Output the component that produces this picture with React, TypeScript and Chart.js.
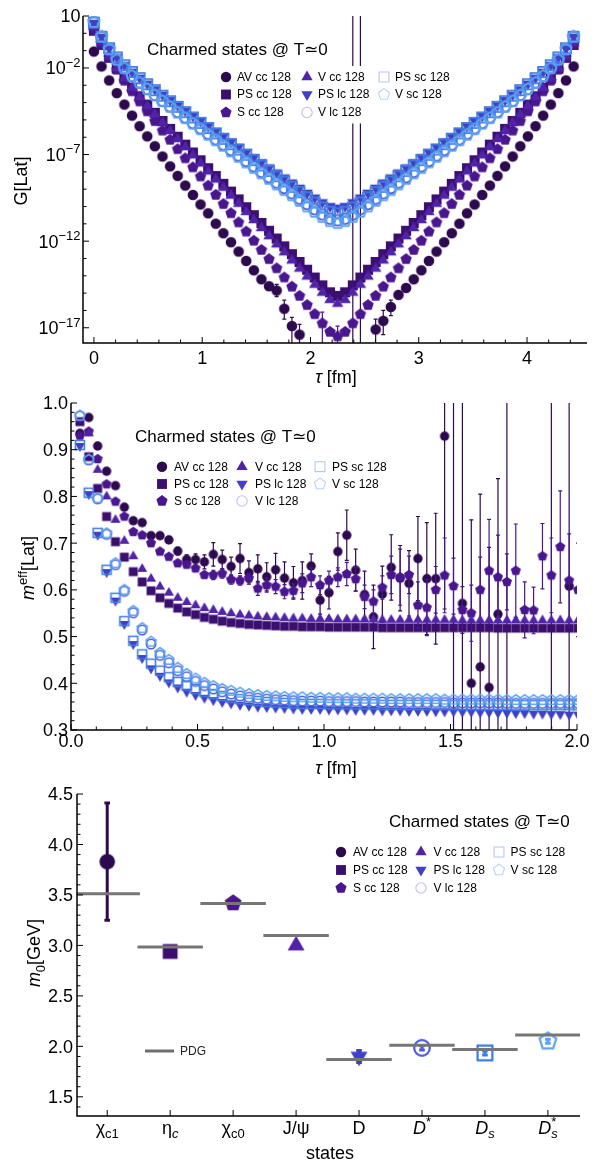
import React, { useEffect, useRef } from 'react';
import { Chart, registerables } from 'chart.js';

Chart.register(...registerables);

const FONT = '"Liberation Sans", Arial, Helvetica, "DejaVu Sans", sans-serif';
const LEGEND_TITLE = 'Charmed states @ T\u22430';

// ---------------- series ----------------
const SERIES = ['AV cc 128', 'PS cc 128', 'S cc 128', 'V cc 128', 'PS lc 128', 'V lc 128', 'PS sc 128', 'V sc 128'];
const COLORS = ['#2d0a4e', '#3b0f6f', '#4a168f', '#5023a8', '#4040c6', '#4c58d8', '#3f7ce2', '#5ca3f2'];
const LEGEND_COLORS = ['#2d0a4e', '#3b0f6f', '#4a168f', '#5023a8', '#4040c6', '#c0c0ee', '#b2c6f2', '#b9d3f6'];
const MARKERS = ['circle', 'square', 'pentagon', 'triUp', 'triDown', 'circle', 'square', 'pentagon'];
const FILLED = [true, true, true, true, true, false, false, false];

const LATTICE_SPACING_FM = 0.03516;

// ---------------- top panel: correlators (log10 G) ----------------
const TOP_SLICES = [0, 2, 4, 6, 8, 10, 12, 14, 16, 18, 20, 22, 24, 26, 28, 30, 32, 34, 36, 38, 40, 42, 44, 46, 48, 50, 52, 54, 56, 58, 60, 62, 64, 66, 68, 70, 72, 74, 76, 78, 80, 82, 84, 86, 88, 90, 92, 94, 96, 98, 100, 102, 104, 106, 108, 110, 112, 114, 116, 118, 120, 122, 124, 126];

const TOP_LOG_AV_CC = [-1.05, -1.91, -2.72, -3.45, -4.11, -4.75, -5.36, -5.95, -6.52, -7.11, -7.68, -8.23, -8.79, -9.33, -9.88, -10.39, -10.99, -11.54, -12.06, -12.60, -13.14, -13.68, -14.20, -14.60, -14.85, -15.90, -16.90, -17.40, null, null, null, null, null, null, null, null, null, -17.10, -16.60, -15.80, -15.10, -14.70, -14.20, -13.68, -13.14, -12.60, -12.06, -11.54, -10.99, -10.39, -9.88, -9.33, -8.79, -8.23, -7.68, -7.11, -6.52, -5.95, -5.36, -4.75, -4.11, -3.45, -2.72, -1.91];
const TOP_LOG_PS_CC = [0.15, -0.67, -1.41, -2.04, -2.61, -3.14, -3.64, -4.12, -4.59, -5.06, -5.52, -5.97, -6.43, -6.88, -7.33, -7.79, -8.24, -8.69, -9.14, -9.59, -10.04, -10.50, -10.95, -11.40, -11.85, -12.30, -12.75, -13.20, -13.65, -14.10, -14.55, -14.95, -15.16, -14.95, -14.55, -14.10, -13.65, -13.20, -12.75, -12.30, -11.85, -11.40, -10.95, -10.50, -10.04, -9.59, -9.14, -8.69, -8.24, -7.79, -7.33, -6.88, -6.43, -5.97, -5.52, -5.06, -4.59, -4.12, -3.64, -3.14, -2.61, -2.04, -1.41, -0.67];
const TOP_LOG_S_CC = [0.20, -0.60, -1.39, -2.10, -2.74, -3.35, -3.94, -4.51, -5.07, -5.62, -6.15, -6.69, -7.22, -7.74, -8.27, -8.80, -9.33, -9.86, -10.39, -10.92, -11.45, -11.98, -12.51, -13.04, -13.57, -14.10, -14.63, -15.16, -15.69, -16.22, -16.75, -17.24, -17.50, -17.24, -16.75, -16.22, -15.69, -15.16, -14.63, -14.10, -13.57, -13.04, -12.51, -11.98, -11.45, -10.92, -10.39, -9.86, -9.33, -8.80, -8.27, -7.74, -7.22, -6.69, -6.15, -5.62, -5.07, -4.51, -3.94, -3.35, -2.74, -2.10, -1.39, -0.60];
const TOP_LOG_V_CC = [0.35, -0.55, -1.33, -2.01, -2.60, -3.15, -3.68, -4.18, -4.67, -5.15, -5.63, -6.10, -6.57, -7.04, -7.51, -7.97, -8.44, -8.91, -9.37, -9.84, -10.31, -10.78, -11.24, -11.71, -12.18, -12.64, -13.11, -13.58, -14.04, -14.51, -14.97, -15.39, -15.61, -15.39, -14.97, -14.51, -14.04, -13.58, -13.11, -12.64, -12.18, -11.71, -11.24, -10.78, -10.31, -9.84, -9.37, -8.91, -8.44, -7.97, -7.51, -7.04, -6.57, -6.10, -5.63, -5.15, -4.67, -4.18, -3.68, -3.15, -2.60, -2.01, -1.33, -0.55];
const TOP_LOG_PS_LC = [0.60, -0.20, -0.87, -1.39, -1.83, -2.22, -2.57, -2.91, -3.23, -3.55, -3.85, -4.16, -4.46, -4.76, -5.06, -5.36, -5.66, -5.96, -6.26, -6.56, -6.86, -7.15, -7.45, -7.75, -8.04, -8.33, -8.62, -8.92, -9.21, -9.49, -9.76, -9.98, -10.07, -9.98, -9.76, -9.49, -9.21, -8.92, -8.62, -8.33, -8.04, -7.75, -7.45, -7.15, -6.86, -6.56, -6.26, -5.96, -5.66, -5.36, -5.06, -4.76, -4.46, -4.16, -3.85, -3.55, -3.23, -2.91, -2.57, -2.22, -1.83, -1.39, -0.87, -0.20];
const TOP_LOG_V_LC = [0.65, -0.20, -0.93, -1.53, -2.02, -2.46, -2.85, -3.22, -3.56, -3.90, -4.22, -4.54, -4.86, -5.18, -5.49, -5.80, -6.12, -6.43, -6.74, -7.06, -7.37, -7.68, -8.00, -8.31, -8.62, -8.93, -9.24, -9.55, -9.86, -10.16, -10.46, -10.70, -10.80, -10.70, -10.46, -10.16, -9.86, -9.55, -9.24, -8.93, -8.62, -8.31, -8.00, -7.68, -7.37, -7.06, -6.74, -6.43, -6.12, -5.80, -5.49, -5.18, -4.86, -4.54, -4.22, -3.90, -3.56, -3.22, -2.85, -2.46, -2.02, -1.53, -0.93, -0.20];
const TOP_LOG_PS_SC = [0.62, -0.20, -0.86, -1.39, -1.84, -2.23, -2.59, -2.94, -3.28, -3.60, -3.92, -4.24, -4.55, -4.86, -5.17, -5.47, -5.78, -6.09, -6.40, -6.71, -7.01, -7.32, -7.63, -7.94, -8.25, -8.55, -8.86, -9.17, -9.47, -9.77, -10.06, -10.30, -10.40, -10.30, -10.06, -9.77, -9.47, -9.17, -8.86, -8.55, -8.25, -7.94, -7.63, -7.32, -7.01, -6.71, -6.40, -6.09, -5.78, -5.47, -5.17, -4.86, -4.55, -4.24, -3.92, -3.60, -3.28, -2.94, -2.59, -2.23, -1.84, -1.39, -0.86, -0.20];
const TOP_LOG_V_SC = [0.66, -0.19, -0.92, -1.52, -2.02, -2.46, -2.85, -3.22, -3.58, -3.92, -4.25, -4.58, -4.90, -5.22, -5.54, -5.86, -6.18, -6.50, -6.82, -7.14, -7.46, -7.78, -8.09, -8.41, -8.73, -9.05, -9.36, -9.68, -10.00, -10.31, -10.61, -10.85, -10.96, -10.85, -10.61, -10.31, -10.00, -9.68, -9.36, -9.05, -8.73, -8.41, -8.09, -7.78, -7.46, -7.14, -6.82, -6.50, -6.18, -5.86, -5.54, -5.22, -4.90, -4.58, -4.25, -3.92, -3.58, -3.22, -2.85, -2.46, -2.02, -1.52, -0.92, -0.19];

// error bars (log10 ends) in the top panel
const TOP_AV_BAR_SLICES = [48, 50, 52, 54, 68, 70, 74, 76, 78];
const TOP_AV_BAR_LO = [-15.2, -16.5, -18.5, -18.5, -19, -19, -18.5, -17.4, -16.3];
const TOP_AV_BAR_HI = [-14.5, -15.4, -16.4, -16.8, 2, 2, -16.5, -16.0, -15.4];
const TOP_S_BAR_SLICES = [60, 64];
const TOP_S_BAR_LO = [-18.5, -18.5];
const TOP_S_BAR_HI = [-16.1, -16.9];

// ---------------- middle panel: effective masses ----------------
const MID_SLICES = [1, 2, 3, 4, 5, 6, 7, 8, 9, 10, 11, 12, 13, 14, 15, 16, 17, 18, 19, 20, 21, 22, 23, 24, 25, 26, 27, 28, 29, 30, 31, 32, 33, 34, 35, 36, 37, 38, 39, 40, 41, 42, 43, 44, 45, 46, 47, 48, 49, 50, 51, 52, 53, 54, 55, 56, 57];

const MEFF_AV_CC = [0.935, 0.969, 0.908, 0.854, 0.823, 0.777, 0.748, 0.744, 0.716, 0.716, 0.707, 0.683, 0.665, 0.665, 0.660, 0.676, 0.665, 0.650, 0.667, 0.637, 0.645, 0.628, 0.643, 0.625, 0.615, 0.620, 0.651, 0.578, 0.594, 0.682, 0.717, 0.642, 0.590, 0.542, 0.591, 0.648, 0.625, 0.614, 0.667, 0.624, 0.624, 0.929, 1.2, 0.571, 0.400, 0.435, 0.391, 0.548, 1.3, null, null, null, null, 1.2, null, 0.608, 1.2];
const MEFF_AV_CC_ERR = [0.003, 0.003, 0.003, 0.003, 0.004, 0.004, 0.005, 0.005, 0.006, 0.006, 0.007, 0.008, 0.010, 0.012, 0.015, 0.025, 0.020, 0.020, 0.032, 0.025, 0.030, 0.030, 0.035, 0.035, 0.035, 0.040, 0.026, 0.030, 0.035, 0.040, 0.054, 0.045, 0.050, 0.068, 0.060, 0.070, 0.070, 0.070, 0.090, 0.120, 0.140, 0.370, 0.900, 0.500, 0.350, 0.370, 0.300, 0.290, 1.000, null, null, null, null, 1.000, null, 0.500, 1.000];
const MEFF_PS_CC = [0.960, 0.885, 0.817, 0.757, 0.703, 0.670, 0.639, 0.617, 0.598, 0.583, 0.571, 0.561, 0.553, 0.547, 0.541, 0.537, 0.533, 0.530, 0.528, 0.526, 0.525, 0.524, 0.523, 0.522, 0.522, 0.521, 0.521, 0.521, 0.520, 0.520, 0.520, 0.520, 0.520, 0.520, 0.519, 0.519, 0.519, 0.519, 0.519, 0.519, 0.519, 0.519, 0.519, 0.519, 0.519, 0.519, 0.519, 0.518, 0.518, 0.518, 0.518, 0.518, 0.518, 0.518, 0.518, 0.518, 0.518];
const MEFF_S_CC = [0.930, 0.939, 0.880, 0.826, 0.789, 0.757, 0.724, 0.717, 0.700, 0.682, 0.671, 0.657, 0.654, 0.646, 0.632, 0.632, 0.635, 0.622, 0.620, 0.625, 0.603, 0.610, 0.607, 0.596, 0.598, 0.614, 0.627, 0.610, 0.620, 0.627, 0.634, 0.623, 0.585, 0.575, 0.605, 0.632, 0.627, 0.632, 0.567, 0.562, 0.600, 0.631, 0.608, 0.557, 0.550, 0.600, 0.641, 0.627, 0.617, 0.641, 0.557, 0.556, 0.672, 0.631, 0.692, 0.620, 0.600];
const MEFF_S_CC_ERR = [0.003, 0.003, 0.003, 0.003, 0.003, 0.003, 0.003, 0.003, 0.003, 0.003, 0.006, 0.006, 0.006, 0.006, 0.006, 0.010, 0.010, 0.010, 0.010, 0.010, 0.015, 0.015, 0.015, 0.015, 0.015, 0.020, 0.020, 0.020, 0.020, 0.020, 0.025, 0.025, 0.025, 0.025, 0.025, 0.040, 0.060, 0.040, 0.050, 0.060, 0.050, 0.080, 0.060, 0.050, 0.060, 0.070, 0.110, 0.090, 0.060, 0.100, 0.060, 0.050, 0.070, 0.080, 0.120, 0.100, 0.100];
const MEFF_V_CC = [1.012, 0.935, 0.857, 0.800, 0.750, 0.705, 0.672, 0.645, 0.624, 0.607, 0.594, 0.583, 0.574, 0.567, 0.561, 0.557, 0.553, 0.550, 0.547, 0.545, 0.543, 0.542, 0.541, 0.540, 0.539, 0.539, 0.538, 0.538, 0.538, 0.537, 0.537, 0.537, 0.537, 0.537, 0.536, 0.536, 0.536, 0.536, 0.536, 0.536, 0.536, 0.536, 0.536, 0.535, 0.535, 0.535, 0.535, 0.535, 0.535, 0.535, 0.535, 0.535, 0.535, 0.535, 0.535, 0.535, 0.535];
const MEFF_PS_LC = [0.908, 0.805, 0.718, 0.638, 0.577, 0.527, 0.484, 0.454, 0.432, 0.416, 0.402, 0.391, 0.382, 0.375, 0.369, 0.364, 0.360, 0.357, 0.354, 0.352, 0.350, 0.349, 0.348, 0.347, 0.346, 0.345, 0.345, 0.345, 0.344, 0.344, 0.344, 0.343, 0.343, 0.343, 0.342, 0.342, 0.342, 0.341, 0.341, 0.341, 0.340, 0.340, 0.340, 0.339, 0.339, 0.338, 0.338, 0.337, 0.337, 0.336, 0.336, 0.335, 0.335, 0.334, 0.334, 0.333, 0.333];
const MEFF_V_LC = [0.972, 0.878, 0.795, 0.719, 0.654, 0.597, 0.551, 0.514, 0.484, 0.460, 0.444, 0.427, 0.414, 0.404, 0.395, 0.388, 0.382, 0.377, 0.373, 0.370, 0.368, 0.366, 0.365, 0.364, 0.363, 0.362, 0.362, 0.362, 0.361, 0.361, 0.361, 0.361, 0.360, 0.360, 0.360, 0.360, 0.360, 0.359, 0.359, 0.359, 0.359, 0.359, 0.358, 0.358, 0.358, 0.358, 0.358, 0.358, 0.357, 0.357, 0.357, 0.357, 0.357, 0.357, 0.357, 0.357, 0.357];
const MEFF_PS_SC = [0.910, 0.808, 0.722, 0.643, 0.583, 0.533, 0.491, 0.462, 0.442, 0.427, 0.413, 0.403, 0.395, 0.388, 0.382, 0.377, 0.373, 0.369, 0.366, 0.364, 0.362, 0.360, 0.359, 0.358, 0.357, 0.356, 0.356, 0.356, 0.355, 0.355, 0.355, 0.355, 0.355, 0.355, 0.354, 0.354, 0.354, 0.354, 0.354, 0.354, 0.354, 0.354, 0.353, 0.353, 0.353, 0.353, 0.353, 0.353, 0.353, 0.353, 0.353, 0.353, 0.353, 0.353, 0.353, 0.353, 0.353];
const MEFF_V_SC = [0.973, 0.879, 0.796, 0.721, 0.657, 0.600, 0.555, 0.518, 0.489, 0.465, 0.450, 0.433, 0.420, 0.410, 0.401, 0.394, 0.388, 0.384, 0.380, 0.377, 0.375, 0.373, 0.372, 0.371, 0.370, 0.370, 0.369, 0.369, 0.368, 0.368, 0.368, 0.367, 0.367, 0.367, 0.367, 0.366, 0.366, 0.366, 0.366, 0.366, 0.366, 0.365, 0.365, 0.365, 0.365, 0.365, 0.365, 0.365, 0.364, 0.364, 0.364, 0.364, 0.364, 0.364, 0.364, 0.364, 0.364];

// ---------------- bottom panel: ground-state masses ----------------
const STATES = ['\u03c7c1', '\u03b7c', '\u03c7c0', 'J/\u03c8', 'D', 'D*', 'Ds', 'D*s'];
const PDG_MASS = [3.511, 2.984, 3.415, 3.097, 1.870, 2.010, 1.968, 2.112];
const LATTICE_MASS = [3.83, 2.94, 3.42, 3.00, 1.90, 1.985, 1.935, 2.05];
const LATTICE_MASS_ERR = [0.58, 0.012, 0.02, 0.012, 0.06, 0.02, 0.02, 0.02];

// ---------------- drawing helpers ----------------
type Seg = { t: string; it?: boolean; sup?: boolean; sub?: boolean; back?: boolean };

const STATE_FORMAT: Record<string, Seg[]> = {
  '\u03c7c1': [{ t: '\u03c7' }, { t: 'c1', sub: true }],
  '\u03b7c': [{ t: '\u03b7' }, { t: 'c', sub: true, it: true }],
  '\u03c7c0': [{ t: '\u03c7' }, { t: 'c0', sub: true }],
  'J/\u03c8': [{ t: 'J/\u03c8' }],
  'D': [{ t: 'D' }],
  'D*': [{ t: 'D', it: true }, { t: '*', sup: true }],
  'Ds': [{ t: 'D', it: true }, { t: 's', sub: true, it: true }],
  'D*s': [{ t: 'D', it: true }, { t: '*', sup: true }, { t: 's', sub: true, it: true, back: true }],
};

function segFont(s: Seg, size: number) {
  const sz = s.sup || s.sub ? Math.round(size * 0.7) : size;
  return `${s.it ? 'italic ' : ''}${sz}px ${FONT}`;
}

function drawRich(ctx: CanvasRenderingContext2D, segs: Seg[], x: number, baseY: number, size: number, align: string) {
  const items: { s: Seg; start: number }[] = [];
  let cur = 0, prevStart = 0, prevW = 0;
  for (const s of segs) {
    ctx.font = segFont(s, size);
    const w = ctx.measureText(s.t).width;
    let start = cur;
    if (s.back) { start = prevStart; cur = prevStart + Math.max(prevW, w); }
    else cur = start + w;
    items.push({ s, start });
    prevStart = start; prevW = w;
  }
  const x0 = align === 'left' ? x : align === 'right' ? x - cur : x - cur / 2;
  ctx.textAlign = 'left';
  ctx.textBaseline = 'alphabetic';
  for (const it of items) {
    ctx.font = segFont(it.s, size);
    const dy = it.s.sup ? -size * 0.42 : it.s.sub ? size * 0.24 : 0;
    ctx.fillText(it.s.t, x0 + it.start, baseY + dy);
  }
}

function sizeFor(kind: string, r: number) {
  if (kind === 'square') return r * 0.95;
  if (kind === 'triUp' || kind === 'triDown') return r * 1.25;
  if (kind === 'pentagon') return r * 1.13;
  return r;
}

function markerPath(ctx: CanvasRenderingContext2D, kind: string, x: number, y: number, s: number) {
  ctx.beginPath();
  if (kind === 'circle') ctx.arc(x, y, s, 0, Math.PI * 2);
  else if (kind === 'square') ctx.rect(x - s, y - s, 2 * s, 2 * s);
  else if (kind === 'triUp') { ctx.moveTo(x, y - s); ctx.lineTo(x + 0.866 * s, y + 0.5 * s); ctx.lineTo(x - 0.866 * s, y + 0.5 * s); ctx.closePath(); }
  else if (kind === 'triDown') { ctx.moveTo(x, y + s); ctx.lineTo(x + 0.866 * s, y - 0.5 * s); ctx.lineTo(x - 0.866 * s, y - 0.5 * s); ctx.closePath(); }
  else {
    for (let k = 0; k < 5; k++) {
      const a = -Math.PI / 2 + (k * 2 * Math.PI) / 5;
      const px = x + s * Math.cos(a), py = y + s * Math.sin(a);
      if (k === 0) ctx.moveTo(px, py); else ctx.lineTo(px, py);
    }
    ctx.closePath();
  }
}

function drawMarker(ctx: CanvasRenderingContext2D, kind: string, x: number, y: number, r: number, color: string, filled: boolean, lw: number) {
  ctx.save();
  markerPath(ctx, kind, x, y, sizeFor(kind, r));
  if (filled) { ctx.fillStyle = color; ctx.fill(); }
  else { ctx.strokeStyle = color; ctx.lineWidth = lw; ctx.stroke(); }
  ctx.restore();
}

function markerCanvas(kind: string, r: number, color: string, filled: boolean, lw: number) {
  const s = sizeFor(kind, r);
  const half = Math.ceil(s + lw + 1);
  const c = document.createElement('canvas');
  c.width = half * 2; c.height = half * 2;
  const ctx = c.getContext('2d')!;
  drawMarker(ctx, kind, half, half, r, color, filled, lw);
  return c;
}

function pointDataset(i: number, points: any[], r: number, lw: number) {
  const img = markerCanvas(MARKERS[i], r, COLORS[i], FILLED[i], lw);
  return {
    label: SERIES[i],
    data: points,
    order: 7 - i,
    showLine: false,
    pointStyle: img,
    pointRadius: img.width / 2,
    pointHoverRadius: img.width / 2,
  };
}

function fixedScale(extra: any, size: number, isY: boolean) {
  return {
    ...extra,
    grid: { display: false, drawTicks: false },
    border: { display: false },
    ticks: { display: false },
    title: { display: false },
    afterFit: (s: any) => { if (isY) s.width = size; else s.height = size; },
  };
}

interface AxesCfg {
  xMajor: number[]; xMinor: number[]; xLabel: (v: number) => Seg[]; xLabelBase: number;
  yMajor: number[]; yMinor: number[]; yLabel: (v: number) => Seg[]; yLabelGap: number;
  xTitle: Seg[]; xTitlePos: number[]; yTitle: Seg[]; yTitlePos: number[];
}

const TICK_SIZE = 18;
const TITLE_SIZE = 18;

function makeAxesPlugin(cfg: AxesCfg) {
  return {
    id: 'mathAxes',
    afterDatasetsDraw(chart: any) {
      const { ctx, chartArea: a } = chart;
      const xs = chart.scales.x, ys = chart.scales.y;
      ctx.save();
      ctx.strokeStyle = '#000';
      ctx.lineWidth = 1;
      const xt = (v: number, len: number) => { const p = xs.getPixelForValue(v); ctx.beginPath(); ctx.moveTo(p, a.bottom); ctx.lineTo(p, a.bottom - len); ctx.stroke(); };
      const yt = (v: number, len: number) => { const p = ys.getPixelForValue(v); ctx.beginPath(); ctx.moveTo(a.left, p); ctx.lineTo(a.left + len, p); ctx.stroke(); };
      cfg.xMajor.forEach(v => xt(v, 6));
      cfg.xMinor.forEach(v => xt(v, 3.5));
      cfg.yMajor.forEach(v => yt(v, 6));
      cfg.yMinor.forEach(v => yt(v, 3.5));
      ctx.lineWidth = 1.5;
      ctx.beginPath();
      ctx.moveTo(a.left, a.top); ctx.lineTo(a.left, a.bottom); ctx.lineTo(a.right, a.bottom);
      ctx.stroke();
      ctx.fillStyle = '#000';
      cfg.xMajor.forEach(v => drawRich(ctx, cfg.xLabel(v), xs.getPixelForValue(v), a.bottom + cfg.xLabelBase, TICK_SIZE, 'center'));
      cfg.yMajor.forEach(v => drawRich(ctx, cfg.yLabel(v), a.left - cfg.yLabelGap, ys.getPixelForValue(v) + TICK_SIZE * 0.36, TICK_SIZE, 'right'));
      drawRich(ctx, cfg.xTitle, cfg.xTitlePos[0], cfg.xTitlePos[1] + TITLE_SIZE * 0.36, TITLE_SIZE, 'center');
      ctx.save();
      ctx.translate(cfg.yTitlePos[0], cfg.yTitlePos[1]);
      ctx.rotate(-Math.PI / 2);
      drawRich(ctx, cfg.yTitle, 0, TITLE_SIZE * 0.36, TITLE_SIZE, 'center');
      ctx.restore();
      ctx.restore();
    },
  };
}

interface Bar { ds: number; x: number; lo: number; hi: number }

function makeErrorBarPlugin(bars: Bar[], lw: number, capHalf: number, capW: number) {
  return {
    id: 'errBars',
    beforeDatasetDraw(chart: any, args: any) {
      const list = bars.filter(b => b.ds === args.index);
      if (!list.length) return;
      const { ctx, chartArea: a } = chart;
      const xs = chart.scales.x, ys = chart.scales.y;
      ctx.save();
      ctx.beginPath();
      ctx.rect(a.left, a.top, a.right - a.left, a.bottom - a.top);
      ctx.clip();
      ctx.strokeStyle = COLORS[args.index];
      for (const b of list) {
        const px = xs.getPixelForValue(b.x);
        const y1 = ys.getPixelForValue(b.lo), y2 = ys.getPixelForValue(b.hi);
        ctx.lineWidth = lw;
        ctx.beginPath(); ctx.moveTo(px, y1); ctx.lineTo(px, y2); ctx.stroke();
        ctx.lineWidth = capW;
        ctx.beginPath();
        ctx.moveTo(px - capHalf, y1); ctx.lineTo(px + capHalf, y1);
        ctx.moveTo(px - capHalf, y2); ctx.lineTo(px + capHalf, y2);
        ctx.stroke();
      }
      ctx.restore();
    },
  };
}

function makeLegendPlugin(cfg: { titleX: number; titleY: number; colX: number[]; textX: number[]; rowY: number[]; box?: boolean }) {
  return {
    id: 'charmLegend',
    afterDraw(chart: any) {
      const ctx = chart.ctx;
      ctx.save();
      if (cfg.box) {
        ctx.fillStyle = '#fff';
        ctx.fillRect(cfg.colX[0] - 8, cfg.rowY[0] - 11, cfg.textX[2] + 66 - (cfg.colX[0] - 8), cfg.rowY[2] - cfg.rowY[0] + 22);
      }
      ctx.fillStyle = '#000';
      ctx.font = `17px ${FONT}`;
      ctx.textAlign = 'left';
      ctx.textBaseline = 'middle';
      ctx.fillText(LEGEND_TITLE, cfg.titleX, cfg.titleY);
      ctx.font = `12px ${FONT}`;
      SERIES.forEach((name, i) => {
        const col = Math.floor(i / 3), row = i % 3;
        drawMarker(ctx, MARKERS[i], cfg.colX[col], cfg.rowY[row], 5.2, LEGEND_COLORS[i], FILLED[i], 1.1);
        ctx.fillStyle = '#000';
        ctx.font = `12px ${FONT}`;
        ctx.textBaseline = 'middle';
        ctx.fillText(name, cfg.textX[col], cfg.rowY[row] + 0.5);
      });
      ctx.restore();
    },
  };
}

function range(from: number, to: number, step: number, skipEvery?: number) {
  const out: number[] = [];
  for (let k = 0; from + k * step <= to + 1e-9; k++) {
    const v = +(from + k * step).toFixed(6);
    if (skipEvery && Math.abs(v / skipEvery - Math.round(v / skipEvery)) < 1e-6) continue;
    out.push(v);
  }
  return out;
}

const SUP_MINUS = '\u2212';

// ---------------- chart configs ----------------
function buildTop(): any {
  const logs = [TOP_LOG_AV_CC, TOP_LOG_PS_CC, TOP_LOG_S_CC, TOP_LOG_V_CC, TOP_LOG_PS_LC, TOP_LOG_V_LC, TOP_LOG_PS_SC, TOP_LOG_V_SC];
  const datasets = logs.map((arr, i) => {
    const pts = TOP_SLICES.map((t, k) => (arr[k] == null ? null : { x: t * LATTICE_SPACING_FM, y: Math.pow(10, arr[k] as number) })).filter(p => p !== null);
    return pointDataset(i, pts, 5.3, 1.8);
  });
  const bars: Bar[] = [];
  TOP_AV_BAR_SLICES.forEach((t, k) => bars.push({ ds: 0, x: t * LATTICE_SPACING_FM, lo: Math.pow(10, TOP_AV_BAR_LO[k]), hi: Math.pow(10, TOP_AV_BAR_HI[k]) }));
  TOP_S_BAR_SLICES.forEach((t, k) => bars.push({ ds: 2, x: t * LATTICE_SPACING_FM, lo: Math.pow(10, TOP_S_BAR_LO[k]), hi: Math.pow(10, TOP_S_BAR_HI[k]) }));
  const yMajorExp = [1, -2, -7, -12, -17];
  const yMinor: number[] = [];
  for (let e = -17; e <= 1; e++) if (!yMajorExp.includes(e)) yMinor.push(Math.pow(10, e));
  return {
    type: 'scatter',
    data: { datasets },
    options: {
      animation: false, responsive: false, events: [],
      layout: { padding: { top: 16, right: 9, left: 0, bottom: 0 } },
      scales: {
        x: fixedScale({ type: 'linear', min: -0.101, max: 4.554 }, 49, false),
        y: fixedScale({ type: 'logarithmic', min: Math.pow(10, -17.88), max: 10 }, 83, true),
      },
      plugins: { legend: { display: false }, tooltip: { enabled: false } },
    },
    plugins: [
      makeErrorBarPlugin(bars, 1.2, 2, 1.2),
      makeAxesPlugin({
        xMajor: [0, 1, 2, 3, 4], xMinor: range(0, 4.4, 0.2, 1), xLabel: v => [{ t: String(v) }], xLabelBase: 21,
        yMajor: yMajorExp.map(e => Math.pow(10, e)), yMinor,
        yLabel: v => { const e = Math.round(Math.log10(v)); return e === 1 ? [{ t: '10' }] : [{ t: '10' }, { t: SUP_MINUS + String(-e), sup: true }]; },
        yLabelGap: 2.5,
        xTitle: [{ t: '\u03c4', it: true }, { t: ' [fm]' }], xTitlePos: [336, 377],
        yTitle: [{ t: 'G[Lat]' }], yTitlePos: [21, 181],
      }),
      makeLegendPlugin({ titleX: 147, titleY: 50, colX: [226, 307, 384], textX: [237, 318, 395], rowY: [77, 94.5, 112.5], box: true }),
    ],
  };
}

function buildMid(): any {
  const vals = [MEFF_AV_CC, MEFF_PS_CC, MEFF_S_CC, MEFF_V_CC, MEFF_PS_LC, MEFF_V_LC, MEFF_PS_SC, MEFF_V_SC];
  const datasets = vals.map((arr, i) => {
    const pts = MID_SLICES.map((t, k) => (arr[k] == null ? null : { x: t * LATTICE_SPACING_FM, y: arr[k] })).filter(p => p !== null);
    return pointDataset(i, pts, 4.7, 1.6);
  });
  const bars: Bar[] = [];
  MID_SLICES.forEach((t, k) => {
    const v = MEFF_AV_CC[k], e = MEFF_AV_CC_ERR[k];
    if (v != null && e != null) bars.push({ ds: 0, x: t * LATTICE_SPACING_FM, lo: v - e, hi: v + e });
    const s = MEFF_S_CC[k], se = MEFF_S_CC_ERR[k];
    if (s != null && se != null) bars.push({ ds: 2, x: t * LATTICE_SPACING_FM, lo: s - se, hi: s + se });
  });
  return {
    type: 'scatter',
    data: { datasets },
    options: {
      animation: false, responsive: false, events: [],
      layout: { padding: { top: 11, right: 21, left: 0, bottom: 0 } },
      scales: {
        x: fixedScale({ type: 'linear', min: 0, max: 2.0 }, 50, false),
        y: fixedScale({ type: 'linear', min: 0.3, max: 1.0 }, 71, true),
      },
      plugins: { legend: { display: false }, tooltip: { enabled: false } },
    },
    plugins: [
      makeErrorBarPlugin(bars, 1.2, 2, 1.2),
      makeAxesPlugin({
        xMajor: [0, 0.5, 1, 1.5, 2], xMinor: range(0, 2, 0.1, 0.5), xLabel: v => [{ t: v.toFixed(1) }], xLabelBase: 17,
        yMajor: [0.3, 0.4, 0.5, 0.6, 0.7, 0.8, 0.9, 1.0], yMinor: range(0.3, 1.0, 0.02, 0.1), yLabel: v => [{ t: v.toFixed(1) }], yLabelGap: 3,
        xTitle: [{ t: '\u03c4', it: true }, { t: ' [fm]' }], xTitlePos: [336, 376],
        yTitle: [{ t: 'm', it: true }, { t: 'eff', sup: true }, { t: '[Lat]' }], yTitlePos: [28, 176],
      }),
      makeLegendPlugin({ titleX: 135, titleY: 45, colX: [162, 242, 320], textX: [174, 255, 332], rowY: [74.7, 92, 109] }),
    ],
  };
}

function buildBottom(): any {
  const datasets = LATTICE_MASS.map((m, i) => pointDataset(i, [{ x: i + 1, y: m }], 7.8, 2.2));
  const bars: Bar[] = LATTICE_MASS.map((m, i) => ({ ds: i, x: i + 1, lo: m - LATTICE_MASS_ERR[i], hi: m + LATTICE_MASS_ERR[i] }));
  const pdgPlugin = {
    id: 'pdg',
    afterDatasetsDraw(chart: any) {
      const { ctx, chartArea: a } = chart;
      const xs = chart.scales.x, ys = chart.scales.y;
      ctx.save();
      ctx.beginPath(); ctx.rect(a.left, a.top, a.right - a.left, a.bottom - a.top); ctx.clip();
      ctx.strokeStyle = '#767676';
      ctx.lineWidth = 3;
      PDG_MASS.forEach((m, i) => {
        const y = ys.getPixelForValue(m);
        ctx.beginPath();
        ctx.moveTo(xs.getPixelForValue(i + 1 - 0.52), y);
        ctx.lineTo(xs.getPixelForValue(i + 1 + 0.52), y);
        ctx.stroke();
      });
      ctx.restore();
      ctx.save();
      ctx.strokeStyle = '#6e6e6e';
      ctx.lineWidth = 3;
      ctx.beginPath(); ctx.moveTo(145, 271); ctx.lineTo(174, 271); ctx.stroke();
      ctx.fillStyle = '#222';
      ctx.font = `12px ${FONT}`;
      ctx.textBaseline = 'middle';
      ctx.textAlign = 'left';
      ctx.fillText('PDG', 180, 271.5);
      ctx.restore();
    },
  };
  return {
    type: 'scatter',
    data: { datasets },
    options: {
      animation: false, responsive: false, events: [],
      layout: { padding: { top: 9, right: 18, left: 0, bottom: 0 } },
      scales: {
        x: fixedScale({ type: 'linear', min: 0.52, max: 8.51 }, 45, false),
        y: fixedScale({ type: 'linear', min: 1.31, max: 4.5 }, 77, true),
      },
      plugins: { legend: { display: false }, tooltip: { enabled: false } },
    },
    plugins: [
      makeErrorBarPlugin(bars, 3, 2.8, 3),
      pdgPlugin,
      makeAxesPlugin({
        xMajor: [1, 2, 3, 4, 5, 6, 7, 8], xMinor: [], xLabel: v => STATE_FORMAT[STATES[v - 1]], xLabelBase: 18,
        yMajor: [1.5, 2.0, 2.5, 3.0, 3.5, 4.0, 4.5], yMinor: range(1.4, 4.5, 0.1, 0.5), yLabel: v => [{ t: v.toFixed(1) }], yLabelGap: 4,
        xTitle: [{ t: 'states' }], xTitlePos: [330, 373],
        yTitle: [{ t: 'm', it: true }, { t: '0', sub: true }, { t: '[GeV]' }], yTitlePos: [34, 173],
      }),
      makeLegendPlugin({ titleX: 389, titleY: 42, colX: [341, 421, 499], textX: [353, 433.5, 510.6], rowY: [72, 90, 108] }),
    ],
  };
}

export default function App() {
  const topRef = useRef<HTMLCanvasElement>(null);
  const midRef = useRef<HTMLCanvasElement>(null);
  const botRef = useRef<HTMLCanvasElement>(null);

  useEffect(() => {
    document.body.style.margin = '0';
    const charts = [
      new Chart(topRef.current as HTMLCanvasElement, buildTop()),
      new Chart(midRef.current as HTMLCanvasElement, buildMid()),
      new Chart(botRef.current as HTMLCanvasElement, buildBottom()),
    ];
    return () => charts.forEach(c => c.destroy());
  }, []);

  return (
    <div style={{ position: 'absolute', left: 0, top: 0, width: 598, height: 1161, background: '#fff' }}>
      <canvas ref={topRef} width={598} height={392} style={{ position: 'absolute', left: 0, top: 0, width: 598, height: 392 }} />
      <canvas ref={midRef} width={598} height={388} style={{ position: 'absolute', left: 0, top: 392, width: 598, height: 388 }} />
      <canvas ref={botRef} width={598} height={381} style={{ position: 'absolute', left: 0, top: 780, width: 598, height: 381 }} />
    </div>
  );
}
